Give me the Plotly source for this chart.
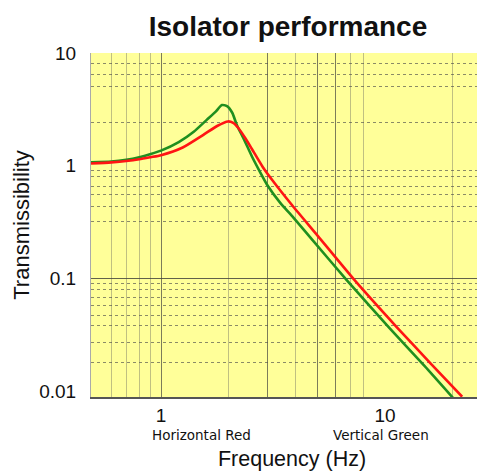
import math
import plotly.graph_objects as go

# ---- data ----
title_text = "Isolator performance"
x_title = "Frequency (Hz)"
y_title = "Transmissibility"

x_tick_vals = [1, 10]
x_tick_text = ["1", "10"]
y_tick_vals = [0.01, 0.1, 1, 10]
y_tick_text = ["0.01", "0.1", "1", "10"]

series_names = ["Vertical Green", "Horizontal Red"]

green_freq = [0.487, 0.6, 0.7, 0.8, 0.9, 1.0, 1.2, 1.4, 1.6, 1.75, 1.87, 1.97,
              2.08, 2.18, 2.35, 2.55, 2.75, 3.0, 3.4, 3.85, 4.77, 6.76, 10.5, 15.0, 20.1]
green_trans = [1.07, 1.09, 1.13, 1.19, 1.27, 1.36, 1.62, 2.0, 2.55, 3.0, 3.45, 3.38,
               2.95, 2.3, 1.7, 1.2, 0.9, 0.66, 0.47, 0.357, 0.216, 0.096, 0.036, 0.0167, 0.0087]

red_freq = [0.487, 0.6, 0.7, 0.8, 0.9, 1.0, 1.25, 1.54, 1.78, 1.99, 2.1, 2.21,
            2.38, 2.55, 2.85, 3.13, 3.85, 5.02, 7.2, 11.3, 16.0, 22.1]
red_trans = [1.045, 1.07, 1.1, 1.14, 1.19, 1.24, 1.45, 1.87, 2.25, 2.47, 2.4, 2.17,
             1.75, 1.4, 0.97, 0.75, 0.445, 0.237, 0.1, 0.0368, 0.0175, 0.0089]

# grid line positions
x_grid_dark = [1, 3, 5, 6]
x_grid_light = [0.6, 0.7, 0.8, 0.9, 2, 4, 7, 8, 20]
y_grid_solid = [0.1]
y_grid_dotted = [8, 6.5, 5, 2.4, 0.9, 0.8, 0.65, 0.55, 0.43, 0.32,
                 0.09, 0.08, 0.068, 0.057, 0.047, 0.038, 0.027, 0.018]

x_range = [math.log10(0.487), 1.482]
y_range = [-2.053, 1.0]

GREEN = "#1f8f1f"
RED = "#ff1414"

# the page body adds an 8px offset; margins compensate for it
OFF = 8

fig = go.Figure()
fig.add_trace(go.Scatter(x=green_freq, y=green_trans, mode="lines", name=series_names[0],
                         line=dict(color=GREEN, width=2.6, shape="spline", smoothing=0.6),
                         hoverinfo="skip"))
fig.add_trace(go.Scatter(x=red_freq, y=red_trans, mode="lines", name=series_names[1],
                         line=dict(color=RED, width=2.6, shape="spline", smoothing=0.6),
                         hoverinfo="skip"))
# invisible anchor trace for the overlay grid axes
fig.add_trace(go.Scatter(x=red_freq, y=red_trans, xaxis="x2", yaxis="y2", mode="lines",
                         line=dict(width=0), opacity=0, hoverinfo="skip", showlegend=False))

tick_font = dict(family="Liberation Sans, Arial, sans-serif", size=19, color="#111")

fig.update_layout(
    width=485, height=473,
    margin=dict(l=91 - OFF, r=0, t=53 - OFF, b=76 + OFF, autoexpand=False),
    paper_bgcolor="white",
    plot_bgcolor="#ffff99",
    showlegend=False,
    title=dict(text=title_text, x=(288 - 91) / (493 - 91), xref="paper", xanchor="center",
               y=1 - (26 - OFF) / 473, yref="container", yanchor="middle",
               font=dict(family="Liberation Sans, Arial, sans-serif", size=28, color="#111",
                         weight="bold")),
    xaxis=dict(type="log", range=x_range, tickmode="array", tickvals=x_tick_vals,
               ticktext=x_tick_text, showgrid=False, zeroline=False, ticks="",
               ticklabelstandoff=0, tickfont=tick_font, automargin=False,
               showline=True, linecolor="#555", linewidth=2,
               minor=dict(tickmode="array", tickvals=x_grid_light, showgrid=True,
                          gridcolor="rgba(140,140,110,0.55)", gridwidth=1, ticks=""),
               title=dict(text=x_title, standoff=26,
                          font=dict(family="Liberation Sans, Arial, sans-serif", size=21.5,
                                    color="#111"))),
    xaxis2=dict(type="log", range=x_range, overlaying="x", anchor="y", tickmode="array",
                tickvals=x_grid_dark, showticklabels=False, ticks="", showgrid=True,
                gridcolor="rgba(80,80,70,0.75)", gridwidth=1, zeroline=False, showline=False,
                automargin=False),
    yaxis=dict(type="log", range=y_range, tickmode="array", tickvals=y_tick_vals,
               ticktext=y_tick_text, showgrid=False, zeroline=False, ticks="",
               ticklabelstandoff=10, tickfont=tick_font, automargin=False,
               showline=True, linecolor="#aaa", linewidth=1,
               minor=dict(tickmode="array", tickvals=y_grid_dotted, showgrid=True,
                          gridcolor="rgba(90,90,80,0.7)", gridwidth=1, griddash="dot", ticks=""),
               title=dict(text=y_title, standoff=3,
                          font=dict(family="Liberation Sans, Arial, sans-serif", size=22,
                                    color="#111"))),
    yaxis2=dict(type="log", range=y_range, overlaying="y", anchor="x", tickmode="array",
                tickvals=y_grid_solid, showticklabels=False, ticks="", showgrid=True,
                gridcolor="rgba(70,70,60,0.85)", gridwidth=1, zeroline=False, showline=False,
                automargin=False),
)

legend_font = dict(family="DejaVu Sans, Verdana, sans-serif", size=13.5, color="#111")
fig.add_annotation(text=series_names[1], xref="paper", yref="paper",
                   x=(201 - 91) / (493 - 91), y=-0.11,
                   showarrow=False, xanchor="center", yanchor="middle", font=legend_font)
fig.add_annotation(text=series_names[0], xref="paper", yref="paper",
                   x=(381 - 91) / (493 - 91), y=-0.11,
                   showarrow=False, xanchor="center", yanchor="middle", font=legend_font)

fig.write_html("out.html")
